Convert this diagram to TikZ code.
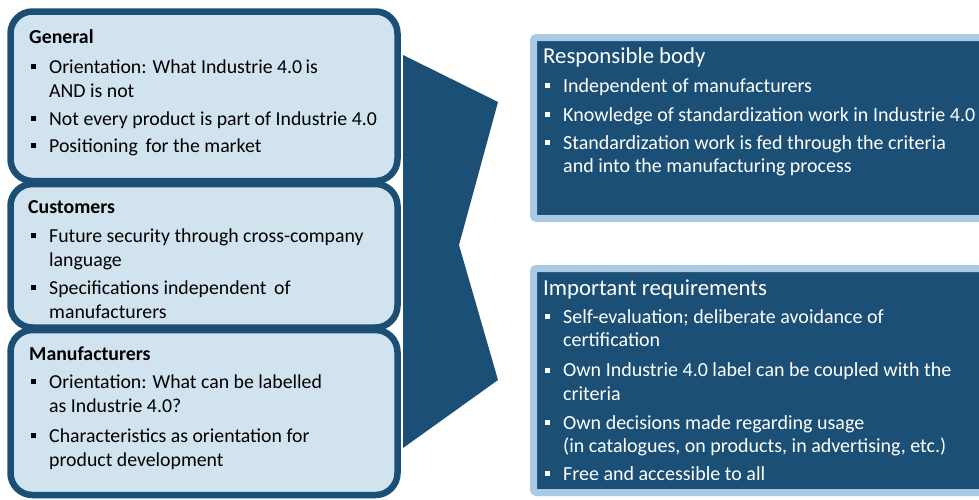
\documentclass[tikz,border=0pt]{standalone}
\usepackage{fontspec}
\setmainfont{Carlito}
\definecolor{dk}{HTML}{1B4F76}
\definecolor{lt}{HTML}{D2E3F0}
\definecolor{lb}{HTML}{A8CBE3}
\newcommand{\bsq}{\makebox[0pt][r]{\raisebox{4pt}{\rule{5pt}{5pt}}\hspace{13.5pt}}}
\tikzset{
  lbox/.style={draw=dk, fill=lt, line width=6.5pt, rounded corners=22pt},
  rbox/.style={draw=lb, fill=dk, line width=7pt, rounded corners=3pt},
  hd/.style={anchor=base west, inner sep=0pt, font=\fontsize{19.8}{24}\selectfont\bfseries},
  itm/.style={anchor=base west, align=left, inner sep=0pt, font=\fontsize{19.8}{24}\selectfont},
  rhd/.style={anchor=base west, inner sep=0pt, text=white, font=\fontsize{22.8}{24}\selectfont},
  ritm/.style={anchor=base west, align=left, inner sep=0pt, text=white, font=\fontsize{20}{23.5}\selectfont},
}
\begin{document}
\begin{tikzpicture}[x=1pt,y=-1pt]
\clip (0,0) rectangle (979,499);
\fill[white] (0,0) rectangle (979,499);
% left boxes
\draw[lbox] (10.5,11.5) rectangle (397.5,181);
\draw[lbox] (10.5,184) rectangle (397.5,327.5);
\draw[lbox] (10.5,330) rectangle (397.5,495);
% chevron
\fill[dk] (403,55) -- (498,102) -- (459,245) -- (498,380) -- (403,448) -- cycle;
% right boxes
\draw[rbox] (533.5,37.5) rectangle (995,218.5);
\draw[rbox] (533.5,268.5) rectangle (995,492.5);
% General (multi-line nodes are placed at the baseline of their last line)
\node[hd] (gh) at (29,43) {General};
\node[itm] (g1) at (49,97) {\bsq Orientation: What Industrie 4.0\,is\\AND is not};
\node[itm] (g2) at (49,125) {\bsq Not every product is part of Industrie 4.0};
\node[itm] (g3) at (49,152) {\bsq Positioning\, for the market};
% Customers
\node[hd] (ch) at (28,213) {Customers};
\node[itm] (c1) at (49,266) {\bsq Future security through cross-company\\language};
\node[itm] (c2) at (49,318) {\bsq Specifications independent\, of\\manufacturers};
% Manufacturers
\node[hd] (mh) at (29,360) {Manufacturers};
\node[itm] (m1) at (49,412) {\bsq Orientation: What can be labelled\\as Industrie 4.0?};
\node[itm] (m2) at (49,466) {\bsq Characteristics as orientation for\\product development};
% Responsible body
\node[rhd] (rh) at (543,63) {Responsible body};
\node[ritm] (r1) at (563,92) {\bsq Independent of manufacturers};
\node[ritm] (r2) at (563,121) {\bsq Knowledge of standardization work in Industrie 4.0};
\node[ritm] (r3) at (563,172.5) {\bsq Standardization work is fed through the criteria\\and into the manufacturing process};
% Important requirements
\node[rhd] (ih) at (543,295) {Important requirements};
\node[ritm] (i1) at (563,346.5) {\bsq Self-evaluation; deliberate avoidance of\\certification};
\node[ritm] (i2) at (563,400) {\bsq Own Industrie 4.0 label can be coupled with the\\criteria};
\node[ritm] (i3) at (563,452.5) {\bsq Own decisions made regarding usage\\(in catalogues, on products, in advertising, etc.)};
\node[ritm] (i4) at (563,480) {\bsq Free and accessible to all};
\end{tikzpicture}
\end{document}
